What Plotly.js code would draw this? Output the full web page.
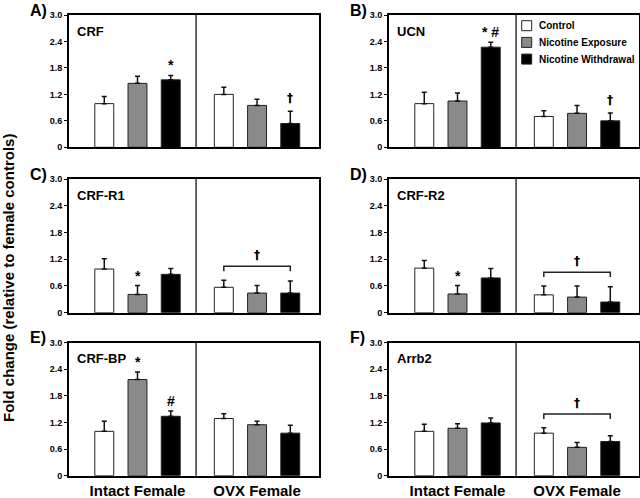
<!DOCTYPE html>
<html>
<head>
<meta charset="utf-8">
<script src="https://cdn.plot.ly/plotly-3.0.1.min.js"></script>
<style>
  html, body { margin: 0; padding: 0; background: #fff; }
  #chart { width: 640px; height: 498px; }
</style>
</head>
<body>
<div id="chart"></div>
<script>
// Groups on the x axis and the three treatment series
const groups = ['Intact Female', 'OVX Female'];
const seriesNames = ['Control', 'Nicotine Exposure', 'Nicotine Withdrawal'];
const panelLetters = ['A)', 'B)', 'C)', 'D)', 'E)', 'F)'];
const genes = ['CRF', 'UCN', 'CRF-R1', 'CRF-R2', 'CRF-BP', 'Arrb2'];
const yTicks = [0, 0.6, 1.2, 1.8, 2.4, 3.0];
const yTickText = ['0', '0.6', '1.2', '1.8', '2.4', '3.0'];

// fold change, one row per series: [Intact, OVX]
const crfMean    = [[0.99, 1.20], [1.45, 0.95], [1.53, 0.54]];
const crfSem     = [[0.16, 0.16], [0.16, 0.14], [0.10, 0.28]];
const ucnMean    = [[0.99, 0.70], [1.05, 0.77], [2.27, 0.60]];
const ucnSem     = [[0.26, 0.13], [0.18, 0.18], [0.11, 0.18]];
const crfR1Mean  = [[0.98, 0.57], [0.41, 0.44], [0.86, 0.44]];
const crfR1Sem   = [[0.23, 0.16], [0.20, 0.17], [0.13, 0.27]];
const crfR2Mean  = [[1.00, 0.40], [0.42, 0.35], [0.78, 0.24]];
const crfR2Sem   = [[0.17, 0.20], [0.19, 0.25], [0.21, 0.34]];
const crfBpMean  = [[1.00, 1.29], [2.17, 1.15], [1.34, 0.96]];
const crfBpSem   = [[0.23, 0.11], [0.17, 0.08], [0.12, 0.18]];
const arrb2Mean  = [[1.00, 0.96], [1.07, 0.64], [1.19, 0.77]];
const arrb2Sem   = [[0.16, 0.12], [0.10, 0.11], [0.11, 0.13]];

const means = [crfMean, ucnMean, crfR1Mean, crfR2Mean, crfBpMean, arrb2Mean];
const sems = [crfSem, ucnSem, crfR1Sem, crfR2Sem, crfBpSem, arrb2Sem];

// significance marks: [panel, series, group, symbol]
const sigMarks = [
    [0, 2, 0, '*'], [0, 2, 1, '†'],
    [1, 2, 0, '* #'], [1, 2, 1, '†'],
    [2, 1, 0, '*'],
    [3, 1, 0, '*'],
    [4, 1, 0, '*'], [4, 2, 0, '#'],
];
const bracketPanels = [2, 3, 5];   // OVX group bracket with dagger

const barColors = ['#ffffff', '#8a8a8a', '#000000'];
const W = 640, H = 498;
const px = v => v / W;
const py = v => 1 - v / H;
const cols = [[69, 318.5], [389, 638.5]];
const rows = [[15, 147.3], [179, 312.7], [342.7, 475.7]];
const slot = 0.278;
const divider = 0.49;
const font = 'Liberation Sans, Arial, sans-serif';
const daggerFont = { family: 'DejaVu Sans, Liberation Sans, sans-serif', size: 12, color: '#000', weight: 700 };

const traces = [];
const layout = {
    width: W, height: H,
    margin: { l: 0, r: 0, t: 0, b: 0 },
    paper_bgcolor: '#fff',
    plot_bgcolor: '#fff',
    font: { family: font, color: '#000', size: 10, weight: 700 },
    barmode: 'group',
    bargap: 0.166,
    bargroupgap: 0.43,
    showlegend: false,
    annotations: [],
    shapes: [],
};

genes.forEach((gene, p) => {
    const n = p === 0 ? '' : String(p + 1);
    const col = cols[p % 2], row = rows[Math.floor(p / 2)];
    const xa = 'x' + n, ya = 'y' + n;

    seriesNames.forEach((name, s) => {
        traces.push({
            type: 'bar',
            name,
            x: [0, 1],
            y: means[p][s],
            xaxis: xa, yaxis: ya,
            marker: { color: barColors[s], line: { color: '#222', width: 1 } },
            error_y: {
                type: 'data', symmetric: false,
                array: sems[p][s], arrayminus: [0, 0],
                color: '#111', thickness: 1.5, width: 2.5,
            },
            hoverinfo: 'skip',
        });
    });

    layout['xaxis' + n] = {
        domain: [px(col[0]), px(col[1])],
        anchor: ya,
        range: [-0.573, 1.514],
        tickvals: [0, 1], ticktext: groups,
        showticklabels: p >= 4,
        tickfont: { size: 15, weight: 700 },
        ticks: '', showgrid: false, zeroline: false,
        showline: true, mirror: true, linewidth: 2, linecolor: '#000',
        fixedrange: true,
    };
    layout['yaxis' + n] = {
        domain: [py(row[1]), py(row[0])],
        anchor: xa,
        range: [0, 3],
        tickvals: yTicks, ticktext: yTickText,
        tickfont: { size: 9, weight: 700 },
        ticks: 'outside', ticklen: 3, tickwidth: 1, tickcolor: '#000',
        showgrid: false, zeroline: false,
        showline: true, mirror: true, linewidth: 2, linecolor: '#000',
        fixedrange: true,
    };

    // group divider
    layout.shapes.push({
        type: 'line', xref: xa, yref: ya + ' domain',
        x0: divider, x1: divider, y0: 0, y1: 1,
        line: { color: '#333', width: 1.5 },
    });

    // panel letter and gene name
    layout.annotations.push({
        xref: 'paper', yref: 'paper',
        x: px(col[0] - 41), y: py(row[0] - 5),
        xanchor: 'left', yanchor: 'middle',
        text: panelLetters[p], showarrow: false,
        font: { size: 16, weight: 700 },
    });
    layout.annotations.push({
        xref: 'paper', yref: 'paper',
        x: px(col[0] + 6), y: py(row[0] + 16),
        xanchor: 'left', yanchor: 'middle',
        text: gene, showarrow: false,
        font: { size: 13, weight: 700 },
    });
});

// significance symbols above bars
sigMarks.forEach(([p, s, g, sym]) => {
    const n = p === 0 ? '' : String(p + 1);
    const top = means[p][s][g] + sems[p][s][g];
    const dagger = sym === '†';
    layout.annotations.push({
        xref: 'x' + n, yref: 'y' + n,
        x: g + (s - 1) * slot, y: top,
        xanchor: 'center', yanchor: 'bottom',
        yshift: dagger ? 4 : 0,
        text: sym, showarrow: false,
        font: dagger ? daggerFont : { size: 14, weight: 700, color: '#000' },
    });
});

// bracket over OVX group
bracketPanels.forEach(p => {
    const n = p === 0 ? '' : String(p + 1);
    const tops = seriesNames.map((_, s) => means[p][s][1] + sems[p][s][1]);
    const yb = Math.max(...tops) + 0.31;
    const x0 = 1 - slot, x1 = 1 + slot;
    layout.shapes.push({
        type: 'path', xref: 'x' + n, yref: 'y' + n,
        path: `M${x0},${yb - 0.11} L${x0},${yb} L${x1},${yb} L${x1},${yb - 0.11}`,
        line: { color: '#222', width: 1.5 },
    });
    layout.annotations.push({
        xref: 'x' + n, yref: 'y' + n,
        x: 1, y: yb,
        xanchor: 'center', yanchor: 'bottom', yshift: 2,
        text: '†', showarrow: false,
        font: daggerFont,
    });
});

// legend drawn inside panel B
seriesNames.forEach((name, s) => {
    const cy = 25.7 + s * 16.7;
    layout.shapes.push({
        type: 'rect', xref: 'paper', yref: 'paper',
        x0: px(521.7), x1: px(531.7), y0: py(cy + 5), y1: py(cy - 5),
        fillcolor: barColors[s], line: { color: '#222', width: 1 },
    });
    layout.annotations.push({
        xref: 'paper', yref: 'paper',
        x: px(536.5), y: py(cy),
        xanchor: 'left', yanchor: 'middle',
        text: name, showarrow: false,
        font: { size: 10, weight: 700 },
    });
});

// shared y title
layout.annotations.push({
    xref: 'paper', yref: 'paper',
    x: px(8), y: py(278),
    xanchor: 'center', yanchor: 'middle',
    textangle: -90,
    text: 'Fold change (relative to female controls)',
    showarrow: false,
    font: { size: 15, weight: 700 },
});

Plotly.newPlot('chart', traces, layout, { displayModeBar: false, staticPlot: true });
</script>
</body>
</html>
